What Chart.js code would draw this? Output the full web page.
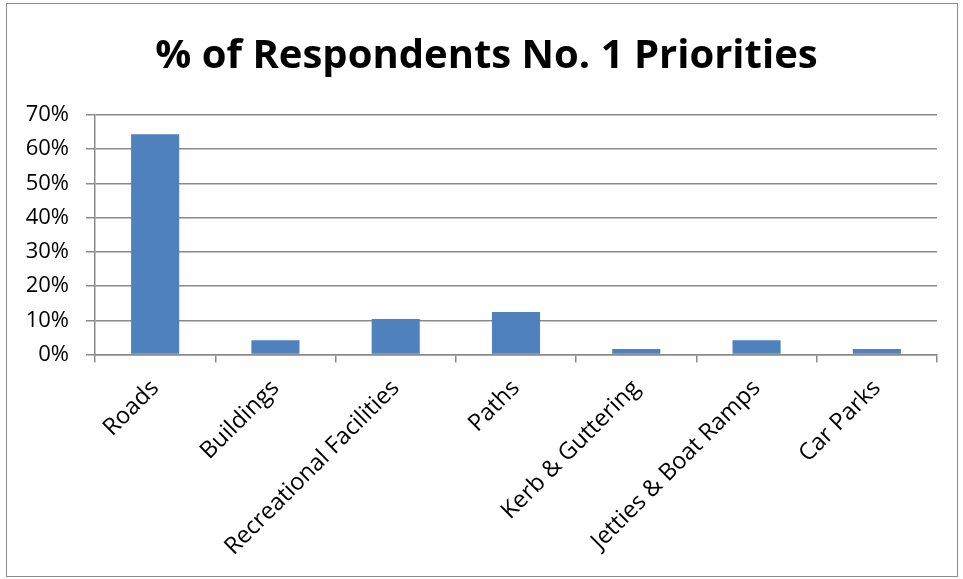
<!DOCTYPE html>
<html>
<head>
<meta charset="utf-8">
<script src="https://cdn.jsdelivr.net/npm/chart.js@4/dist/chart.umd.min.js"></script>
<style>
  html, body { margin: 0; padding: 0; background: #ffffff; }
  #wrap { width: 963px; height: 579px; }
</style>
</head>
<body>
<div id="wrap"><canvas id="chart" width="963" height="579"></canvas></div>
<script>
// Survey results: share of respondents naming each item as their No. 1 priority
const categories = ['Roads', 'Buildings', 'Recreational Facilities', 'Paths', 'Kerb & Guttering', 'Jetties & Boat Ramps', 'Car Parks'];
const percentValues = [64.4, 4.2, 10.4, 12.4, 1.6, 4.2, 1.6];
const yTickValues = [0, 10, 20, 30, 40, 50, 60, 70];
const chartTitle = '% of Respondents No. 1 Priorities';

const gridGrey = '#8a8a8a';
const gridWidth = 1.5;
const labelFont = "'Open Sans', 'Liberation Sans', sans-serif";

// Outer frame plus a title centred on the frame rather than on the plot
const framePlugin = {
  id: 'frame',
  beforeDraw(chart) {
    const ctx = chart.ctx;
    ctx.save();
    ctx.fillStyle = '#ffffff';
    ctx.fillRect(0, 0, chart.width, chart.height);
    ctx.strokeStyle = '#8c8c8c';
    ctx.lineWidth = 1;
    ctx.strokeRect(6.5, 3.5, 951, 573);
    ctx.restore();
  },
  afterDraw(chart) {
    const ctx = chart.ctx;
    ctx.save();
    ctx.fillStyle = '#000000';
    ctx.font = "bold 40px " + labelFont;
    ctx.textAlign = 'center';
    ctx.textBaseline = 'alphabetic';
    ctx.fillText(chartTitle, 486.5, 68);
    ctx.restore();
  }
};

new Chart(document.getElementById('chart'), {
  type: 'bar',
  data: {
    labels: categories,
    datasets: [{
      data: percentValues,
      backgroundColor: '#4f81bd',
      borderWidth: 0,
      categoryPercentage: 1.0,
      barPercentage: 0.4
    }]
  },
  options: {
    responsive: false,
    animation: false,
    devicePixelRatio: 1,
    // top padding leaves room for the title drawn by the plugin
    layout: { padding: { left: 0, right: 26, top: 115, bottom: 0 } },
    plugins: {
      legend: { display: false },
      tooltip: { enabled: false },
      title: { display: false }
    },
    scales: {
      x: {
        offset: true,
        grid: {
          offset: true,
          drawOnChartArea: false,
          drawTicks: true,
          tickLength: 8,
          color: gridGrey,
          lineWidth: gridWidth
        },
        border: { display: true, color: gridGrey, width: gridWidth },
        ticks: {
          autoSkip: false,
          minRotation: 45,
          maxRotation: 45,
          padding: 12,
          color: '#000000',
          font: { family: labelFont, size: 23.5 }
        },
        afterFit(scale) { scale.height = 224.5; }
      },
      y: {
        min: 0,
        max: 70,
        afterBuildTicks(scale) {
          scale.ticks = yTickValues.map(v => ({ value: v }));
        },
        grid: {
          color: gridGrey,
          lineWidth: gridWidth,
          tickLength: 9,
          drawTicks: true
        },
        border: { display: true, color: gridGrey, width: gridWidth },
        ticks: {
          padding: 17,
          color: '#000000',
          font: { family: labelFont, size: 22 },
          callback: v => v + '%'
        },
        afterFit(scale) { scale.width = 95; }
      }
    }
  },
  plugins: [framePlugin]
});
</script>
</body>
</html>
